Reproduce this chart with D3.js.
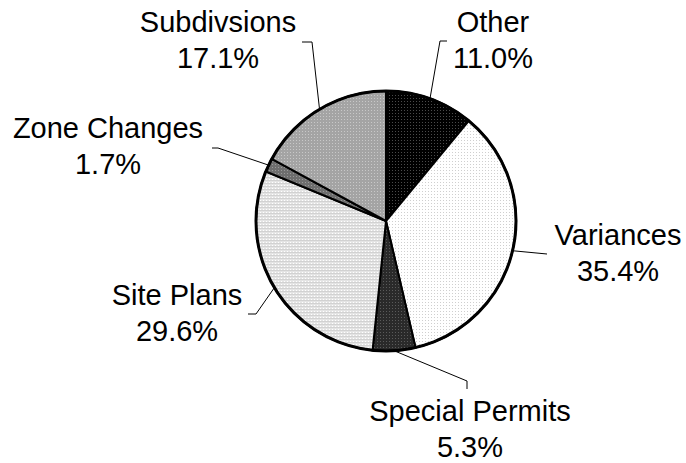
<!DOCTYPE html>
<html>
<head>
    <script src="https://d3js.org/d3.v7.min.js"></script>
    <style>
        body { margin: 0; background: #ffffff; }
        text { font-family: 'Liberation Sans', Arial, sans-serif; }
    </style>
</head>
<body>
    <svg id="chart" width="686" height="463"></svg>
    <script>
        // data
        var categories = ["Other", "Variances", "Special Permits", "Site Plans", "Zone Changes", "Subdivsions"];
        var shares = [11.0, 35.4, 5.3, 29.6, 1.7, 17.1];
        var shareLabels = ["11.0%", "35.4%", "5.3%", "29.6%", "1.7%", "17.1%"];

        // fills: base colour + dot colour for a small dither pattern
        var fillBase = ["#000000", "#ffffff", "#2a2a2a", "#e4e4e4", "#6e6e6e", "#a4a4a4"];
        var fillDot = ["#4a4a4a", "#cfcfcf", "#5a5a5a", "#ffffff", "#9a9a9a", "#c8c8c8"];

        // label layout, relative to the pie centre: text centre x, first baseline y,
        // elbow of the leader and its end point
        var labelLayout = [
            { tx: 107, ty: -189, elbow: [54, -180], end: [61, -180] },
            { tx: 232, ty: 24, elbow: [161, 33], end: [161, 33] },
            { tx: 84, ty: 200, elbow: [81, 160], end: [81, 168] },
            { tx: -209, ty: 84, elbow: [-130, 93], end: [-138, 93] },
            { tx: -278, ty: -83, elbow: [-168, -73], end: [-174, -73] },
            { tx: -168, ty: -189, elbow: [-74, -179], end: [-84, -179] }
        ];

        var svg = d3.select("#chart");
        var cx = 386, cy = 221, radius = 130;

        var defs = svg.append("defs");
        fillBase.forEach(function (c, i) {
            var p = defs.append("pattern")
                .attr("id", "pat" + i)
                .attr("width", 3)
                .attr("height", 3)
                .attr("patternUnits", "userSpaceOnUse");
            p.append("rect").attr("width", 3).attr("height", 3).attr("fill", c);
            p.append("rect").attr("x", 0).attr("y", 0).attr("width", 1).attr("height", 1).attr("fill", fillDot[i]);
            if (i === 3) {
                p.append("rect").attr("x", 0).attr("y", 1).attr("width", 3).attr("height", 1).attr("fill", "#d2d2d2");
            }
        });

        var pie = d3.pie().sort(null).value(function (d) { return d; });
        var arcs = pie(shares);
        var arc = d3.arc().innerRadius(0).outerRadius(radius);

        var g = svg.append("g").attr("transform", "translate(" + cx + "," + cy + ")");

        g.selectAll("path.slice")
            .data(arcs)
            .enter().append("path")
            .attr("class", "slice")
            .attr("d", arc)
            .attr("fill", function (d, i) { return "url(#pat" + i + ")"; })
            .attr("stroke", "#000")
            .attr("stroke-width", 2)
            .attr("stroke-linejoin", "miter");

        g.append("circle")
            .attr("r", radius)
            .attr("fill", "none")
            .attr("stroke", "#000")
            .attr("stroke-width", 3);

        // leader lines
        g.selectAll("polyline.leader")
            .data(arcs)
            .enter().append("polyline")
            .attr("class", "leader")
            .attr("fill", "none")
            .attr("stroke", "#000")
            .attr("stroke-width", 1)
            .attr("points", function (d, i) {
                var a = (d.startAngle + d.endAngle) / 2;
                var p0 = [Math.sin(a) * radius, -Math.cos(a) * radius];
                var L = labelLayout[i];
                return [p0, L.elbow, L.end].map(function (p) { return p.join(","); }).join(" ");
            });

        var labels = g.selectAll("text.label")
            .data(arcs)
            .enter().append("text")
            .attr("class", "label")
            .attr("text-anchor", "middle")
            .attr("font-size", "29px")
            .attr("fill", "#000");

        labels.append("tspan")
            .attr("x", function (d, i) { return labelLayout[i].tx; })
            .attr("y", function (d, i) { return labelLayout[i].ty; })
            .text(function (d, i) { return categories[i]; });

        labels.append("tspan")
            .attr("x", function (d, i) { return labelLayout[i].tx; })
            .attr("dy", 36)
            .text(function (d, i) { return shareLabels[i]; });
    </script>
</body>
</html>
